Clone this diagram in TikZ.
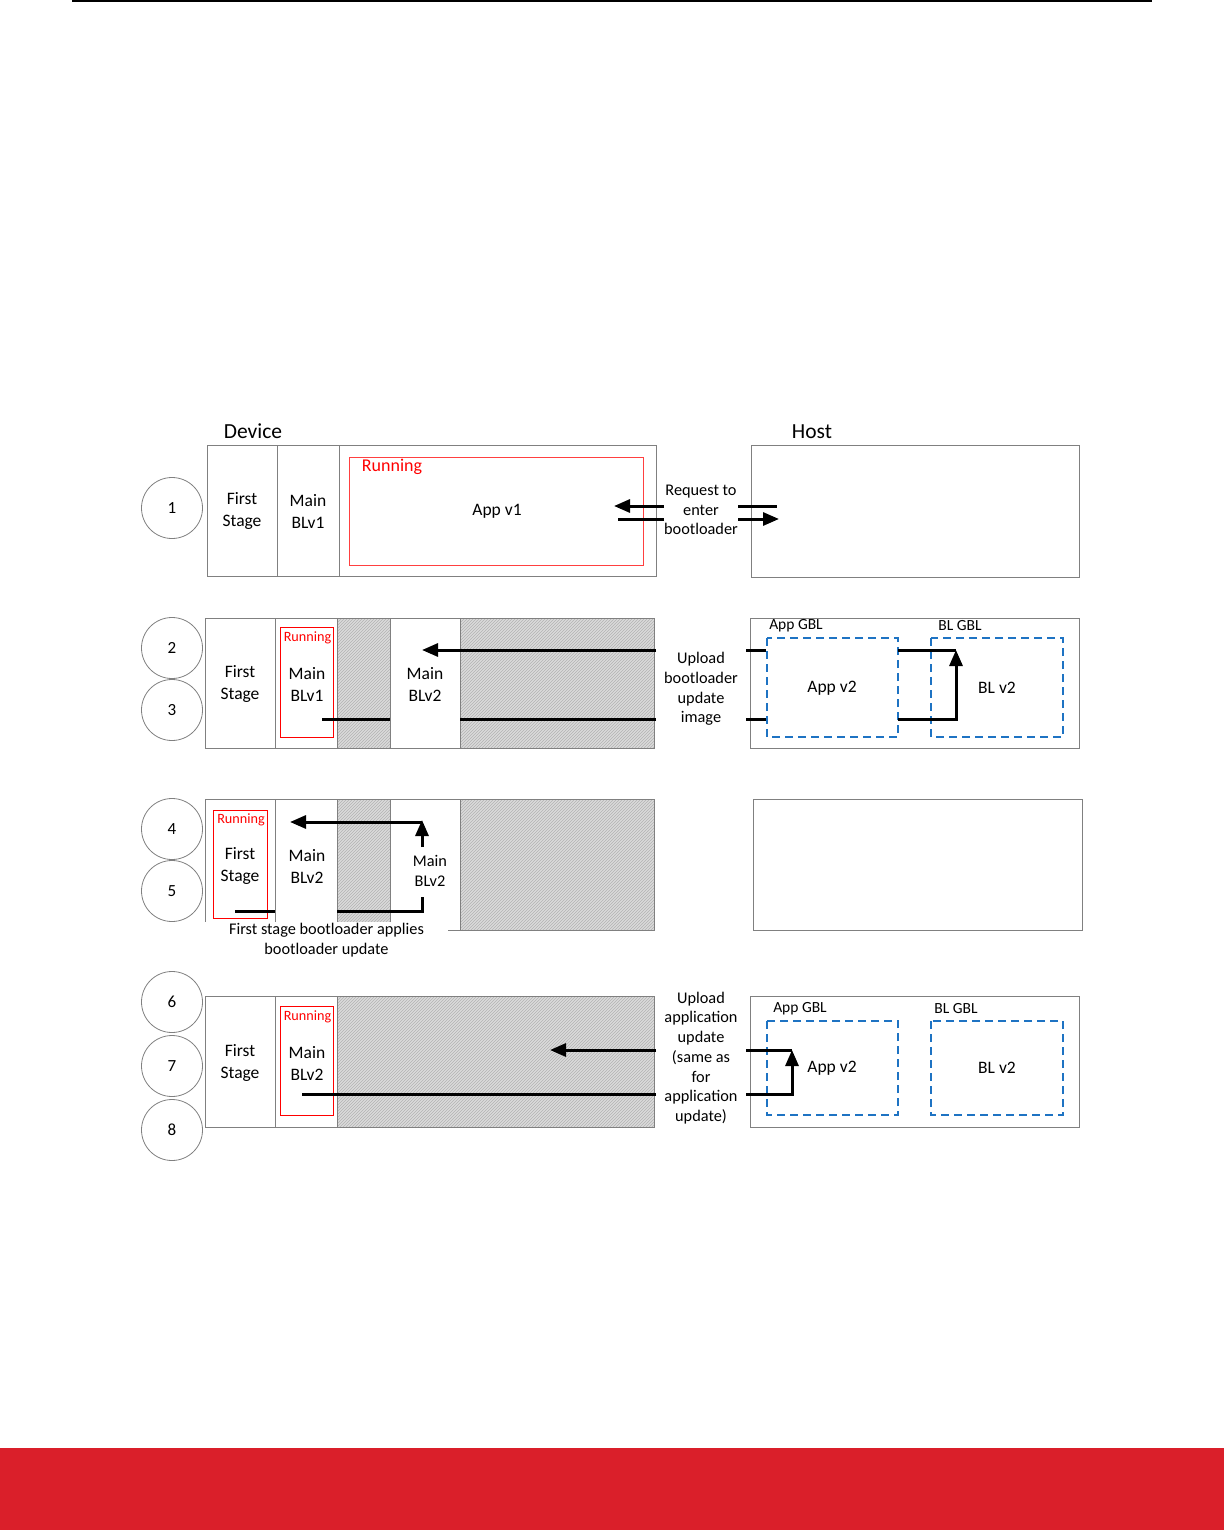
\documentclass[tikz,border=0pt]{standalone}
\usepackage{fontspec}
\setmainfont{Carlito}
\usetikzlibrary{arrows.meta,patterns}
\definecolor{boxgray}{RGB}{128,128,128}
\definecolor{gblblue}{RGB}{30,115,195}
\definecolor{bandred}{RGB}{218,31,42}
\tikzset{
  stepnum/.style={circle, draw=boxgray, line width=0.8pt, minimum size=61pt, inner sep=0pt, font=\fontsize{17}{20}\selectfont},
  lbl/.style={align=center, inner sep=1pt, font=\fontsize{17.5}{22}\selectfont},
  note/.style={align=center, inner sep=1pt, font=\fontsize{16.3}{19.7}\selectfont},
  title/.style={inner sep=1pt, font=\fontsize{21.5}{25}\selectfont},
  gbllbl/.style={inner sep=1pt, font=\fontsize{15.5}{18}\selectfont},
  runlbl/.style={inner sep=0pt, text=red, font=\fontsize{18}{21}\selectfont},
  runsmall/.style={inner sep=0pt, text=red, font=\fontsize{14.2}{16}\selectfont},
  frame/.style={draw=boxgray, line width=1pt},
  running/.style={draw=red, line width=0.9pt},
  hatch/.style={preaction={fill=gray!28}, pattern=north east lines, pattern color=gray!60},
  gbl/.style={draw=gblblue, line width=1.2pt, dash pattern=on 8pt off 5pt},
  flow/.style={line width=3pt},
}

\begin{document}
\begin{tikzpicture}[x=1pt, y=-1pt, >={Triangle[length=16pt,width=13pt]}]
    \useasboundingbox (0,0) rectangle (1224,1530);

    % Page rule and footer band
    \draw[line width=2pt] (72,1) -- (1152,1);
    \fill[bandred] (0,1448) rectangle (1224,1530);

    % Titles
    \node[title] (device) at (253,431) {Device};
    \node[title] (host) at (812,432) {Host};

    % Step 1: request to enter bootloader
    \node[stepnum] (s1) at (172,508) {1};
    \draw[frame] (207,445) rectangle (656,576);
    \draw[frame] (277,445) -- (277,576);
    \draw[frame] (339,445) -- (339,576);
    \draw[running, draw=red!75] (349,457) rectangle (643,565);
    \node[runlbl] (run1) at (392,467) {Running};
    \node[lbl] (fs1) at (242,511) {First\\Stage};
    \node[lbl] (bl1) at (308,511) {Main\\BLv1};
    \node[lbl] (app1) at (497,511) {App v1};
    \node[note] (req) at (701,510) {Request to\\enter\\bootloader};
    \draw[frame] (751,445) rectangle (1079,577);
    \coordinate (req1) at (664,506);
    \coordinate (req2) at (664,519);
    \coordinate (req3) at (738,506);
    \coordinate (req4) at (738,519);
    \draw[flow,->] (req1) -- (614,506);
    \draw[flow] (req2) -- (618,519);
    \draw[flow] (req3) -- (777,506);
    \draw[flow,->] (req4) -- (779,519);

    % Steps 2 and 3: upload bootloader update image
    \node[stepnum] (s2) at (172,648) {2};
    \node[stepnum] (s3) at (172,710) {3};
    \path[hatch] (337,618) rectangle (390,748);
    \path[hatch] (460,618) rectangle (654,748);
    \draw[frame] (205,618) rectangle (654,748);
    \foreach \x in {275,337,390,460}
        \draw[frame] (\x,618) -- (\x,748);
    \draw[running] (280,627) rectangle (333,737);
    \node[runsmall] (run2) at (307.5,638) {Running};
    \node[lbl] (fs2) at (240,684) {First\\Stage};
    \node[lbl] (bl2) at (307,684) {Main\\BLv1};
    \node[lbl] (nbl2) at (425,684) {Main\\BLv2};
    \node[note] (upbl) at (701,689) {Upload\\bootloader\\update\\image};
    \draw[frame] (750,618) rectangle (1079,748);
    \node[gbllbl] (appgbl2) at (796,626) {App GBL};
    \node[gbllbl] (blgbl2) at (960,626) {BL GBL};
    \draw[gbl] (767,638) rectangle (898,737);
    \draw[gbl] (931,638) rectangle (1063,737);
    \node[lbl] (appv2a) at (832,688) {App v2};
    \node[lbl] (blv2a) at (997,688) {BL v2};
    \coordinate (up1) at (656,650);
    \coordinate (up2) at (656,719);
    \coordinate (bltop) at (898,650);
    \coordinate (blbot) at (898,719);
    \draw[flow,->] (up1) -- (422,650);
    \draw[flow] (up2) -- (460,719);
    \draw[flow] (390,719) -- (322,719);
    \draw[flow] (746,650) -- (766,650);
    \draw[flow] (746,719) -- (766,719);
    \draw[flow] (bltop) -- (956,650);
    \draw[flow,->] (blbot) -- (956,719) -- (956,650);

    % Steps 4 and 5: first stage applies bootloader update
    \node[stepnum] (s4) at (172,829) {4};
    \node[stepnum] (s5) at (172,891) {5};
    \path[hatch] (337,799) rectangle (390,930);
    \path[hatch] (460,799) rectangle (654,930);
    \draw[frame] (205,799) rectangle (654,930);
    \foreach \x in {275,337,390,460}
        \draw[frame] (\x,799) -- (\x,930);
    \draw[running] (213,810) rectangle (267,918);
    \node[runsmall] (run4) at (241,820) {Running};
    \node[lbl] (fs4) at (240,866) {First\\Stage};
    \node[lbl] (bl4) at (307,866) {Main\\BLv2};
    \node[note] (nbl4) at (430,871) {Main\\BLv2};
    \coordinate (cp1) at (422,847);
    \coordinate (cp2) at (422,897);
    \draw[flow,->] (cp1) -- (422,820);
    \draw[flow,->] (422,822) -- (290,822);
    \draw[flow] (cp2) -- (422,911) -- (337,911);
    \draw[flow] (275,911) -- (235,911);
    \node[note, fill=white, minimum width=243pt] (apply) at (326.5,940) {First stage bootloader applies\\bootloader update};
    \draw[frame] (753,799) rectangle (1082,930);

    % Steps 6 to 8: upload application update
    \node[stepnum] (s6) at (172,1002) {6};
    \node[stepnum] (s7) at (172,1066) {7};
    \node[stepnum] (s8) at (172,1130) {8};
    \path[hatch] (337,996) rectangle (654,1127);
    \draw[frame] (205,996) rectangle (654,1127);
    \foreach \x in {275,337}
        \draw[frame] (\x,996) -- (\x,1127);
    \draw[running] (280,1006) rectangle (333,1115);
    \node[runsmall] (run6) at (307.5,1017) {Running};
    \node[lbl] (fs6) at (240,1063) {First\\Stage};
    \node[lbl] (bl6) at (307,1063) {Main\\BLv2};
    \node[note] (upapp) at (701,1058) {Upload\\application\\update\\(same as\\for\\application\\update)};
    \draw[frame] (750,996) rectangle (1079,1127);
    \node[gbllbl] (appgbl6) at (800,1009) {App GBL};
    \node[gbllbl] (blgbl6) at (956,1009) {BL GBL};
    \draw[gbl] (767,1021) rectangle (898,1115);
    \draw[gbl] (931,1021) rectangle (1063,1115);
    \node[lbl] (appv2b) at (832,1068) {App v2};
    \node[lbl] (blv2b) at (997,1068) {BL v2};
    \coordinate (ua1) at (656,1050);
    \coordinate (ua2) at (656,1094);
    \draw[flow,->] (ua1) -- (550,1050);
    \draw[flow] (ua2) -- (302,1094);
    \draw[flow] (746,1050) -- (792,1050);
    \draw[flow,->] (746,1094) -- (792,1094) -- (792,1050);
\end{tikzpicture}
\end{document}
